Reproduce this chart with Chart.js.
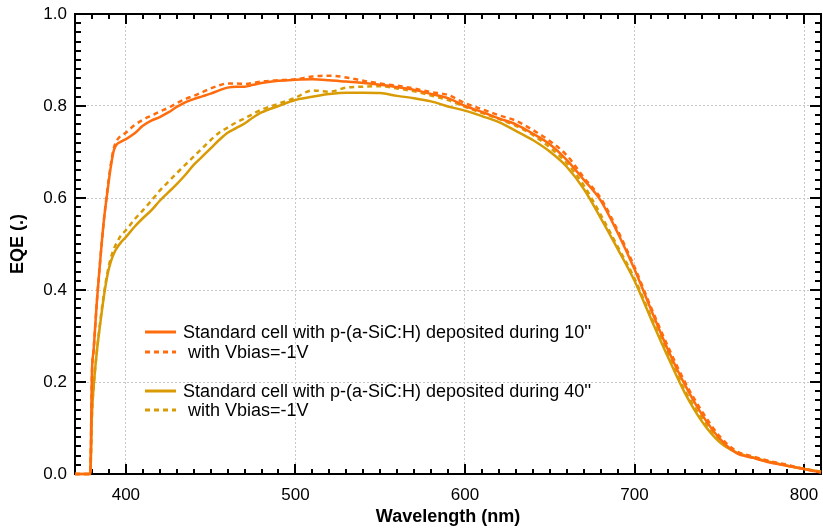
<!DOCTYPE html>
<html>
<head>
<meta charset="utf-8">
<script src="https://cdn.jsdelivr.net/npm/chart.js@4"></script>
<style>
  body { margin: 0; background: #fff; }
  #wrap { width: 823px; height: 529px; }
</style>
</head>
<body>
<div id="wrap"><canvas id="eqeChart" width="823" height="529"></canvas></div>
<script>
// wavelength grid (nm)
const wavelengths = [370, 379, 380, 381, 383, 385, 387, 389, 391, 393, 395, 397, 400, 405, 410, 415, 420, 425, 430, 435, 440, 445, 450, 455, 460, 465, 470, 475, 480, 490, 500, 510, 520, 530, 540, 550, 560, 570, 580, 590, 600, 610, 620, 630, 640, 650, 660, 670, 680, 690, 700, 710, 720, 730, 740, 750, 760, 770, 780, 790, 800, 810];

// EQE, p-layer deposited 10''
const eqe10 = [0, 0, 0.22, 0.27, 0.38, 0.47, 0.55, 0.61, 0.665, 0.705, 0.718, 0.722, 0.728, 0.74, 0.757, 0.768, 0.776, 0.786, 0.798, 0.808, 0.815, 0.821, 0.827, 0.834, 0.84, 0.842, 0.842, 0.846, 0.85, 0.855, 0.857, 0.858, 0.856, 0.853, 0.85, 0.846, 0.841, 0.835, 0.826, 0.817, 0.80, 0.787, 0.773, 0.76, 0.74, 0.717, 0.683, 0.64, 0.595, 0.525, 0.445, 0.355, 0.268, 0.192, 0.128, 0.078, 0.046, 0.035, 0.025, 0.018, 0.011, 0.003];
// same, Vbias = -1V
const eqe10bias = [0, 0, 0.22, 0.27, 0.38, 0.47, 0.55, 0.615, 0.67, 0.71, 0.727, 0.735, 0.742, 0.758, 0.77, 0.779, 0.788, 0.796, 0.806, 0.815, 0.822, 0.83, 0.838, 0.845, 0.849, 0.849, 0.848, 0.85, 0.853, 0.856, 0.858, 0.864, 0.866, 0.862, 0.855, 0.849, 0.844, 0.838, 0.83, 0.824, 0.806, 0.793, 0.78, 0.768, 0.748, 0.724, 0.693, 0.645, 0.6, 0.53, 0.45, 0.36, 0.275, 0.198, 0.135, 0.083, 0.05, 0.038, 0.028, 0.02, 0.011, 0.004];
// EQE, p-layer deposited 40''
const eqe40 = [0, 0, 0.13, 0.19, 0.27, 0.33, 0.385, 0.43, 0.46, 0.48, 0.493, 0.503, 0.515, 0.537, 0.556, 0.573, 0.594, 0.612, 0.63, 0.65, 0.672, 0.69, 0.708, 0.726, 0.742, 0.752, 0.762, 0.775, 0.786, 0.80, 0.813, 0.82, 0.826, 0.829, 0.829, 0.828, 0.822, 0.817, 0.81, 0.799, 0.79, 0.778, 0.765, 0.746, 0.726, 0.701, 0.668, 0.62, 0.557, 0.49, 0.42, 0.335, 0.252, 0.174, 0.113, 0.07, 0.047, 0.036, 0.026, 0.018, 0.011, 0.005];
// same, Vbias = -1V
const eqe40bias = [0, 0, 0.13, 0.19, 0.27, 0.335, 0.39, 0.435, 0.468, 0.49, 0.505, 0.518, 0.53, 0.553, 0.573, 0.594, 0.616, 0.635, 0.654, 0.672, 0.69, 0.708, 0.726, 0.742, 0.753, 0.764, 0.773, 0.783, 0.792, 0.805, 0.818, 0.834, 0.831, 0.84, 0.842, 0.843, 0.838, 0.832, 0.823, 0.813, 0.798, 0.785, 0.772, 0.757, 0.737, 0.71, 0.676, 0.628, 0.564, 0.495, 0.425, 0.34, 0.258, 0.18, 0.12, 0.074, 0.047, 0.036, 0.027, 0.019, 0.011, 0.005];

const xTicks = [400, 500, 600, 700, 800];
const legendLabels = ["Standard cell with p-(a-SiC:H) deposited during 10''", " with Vbias=-1V", "Standard cell with p-(a-SiC:H) deposited during 40''", " with Vbias=-1V"];

const ORANGE = '#ff6c0e';
const GOLD = '#d99b05';
const FONT = 'Arial, "Liberation Sans", sans-serif';

function toPoints(ys) {
    return wavelengths.map((x, i) => ({ x: x, y: ys[i] }));
}

function series(ys, color, dashed) {
    return {
        data: toPoints(ys),
        borderColor: color,
        borderWidth: 2.5,
        borderDash: dashed ? [5, 4] : [],
        pointRadius: 0,
        fill: false,
        clip: 4,
        cubicInterpolationMode: 'monotone'
    };
}

// frame + inward ticks (under the curves), legend box on top
const framePlugin = {
    id: 'frame',
    beforeDatasetsDraw(chart) {
        const ctx = chart.ctx;
        const a = chart.chartArea;
        const xs = chart.scales.x;
        const ys = chart.scales.y;
        ctx.save();
        ctx.strokeStyle = '#000';
        ctx.lineWidth = 2;
        ctx.strokeRect(a.left, a.top, a.right - a.left, a.bottom - a.top);

        ctx.beginPath();
        for (let w = 370; w <= 810; w += 10) {
            const px = Math.round(xs.getPixelForValue(w));
            const len = (w % 100 === 0) ? 10 : 5;
            ctx.moveTo(px, a.bottom); ctx.lineTo(px, a.bottom - len);
            ctx.moveTo(px, a.top); ctx.lineTo(px, a.top + len);
        }
        for (let k = 0; k <= 50; k++) {
            const py = Math.round(ys.getPixelForValue(k * 0.02));
            const len = (k % 10 === 0) ? 11 : 6;
            ctx.moveTo(a.left, py); ctx.lineTo(a.left + len, py);
            ctx.moveTo(a.right, py); ctx.lineTo(a.right - len, py);
        }
        ctx.stroke();
        ctx.restore();
    },
    afterDraw(chart) {
        const ctx = chart.ctx;
        const rows = [
            { y: 332, color: ORANGE, dash: [] },
            { y: 352, color: ORANGE, dash: [5, 4] },
            { y: 391, color: GOLD, dash: [] },
            { y: 410, color: GOLD, dash: [5, 4] }
        ];
        ctx.save();
        ctx.font = '18px ' + FONT;
        ctx.textBaseline = 'middle';
        ctx.fillStyle = '#000';
        rows.forEach((r, i) => {
            ctx.beginPath();
            ctx.setLineDash(r.dash);
            ctx.strokeStyle = r.color;
            ctx.lineWidth = 3;
            ctx.moveTo(145, r.y);
            ctx.lineTo(176, r.y);
            ctx.stroke();
            ctx.setLineDash([]);
            ctx.fillText(legendLabels[i], 183, r.y + 1);
        });
        ctx.restore();
    }
};

new Chart(document.getElementById('eqeChart'), {
    type: 'line',
    data: {
        datasets: [
            series(eqe10, ORANGE, false),
            series(eqe10bias, ORANGE, true),
            series(eqe40, GOLD, false),
            series(eqe40bias, GOLD, true)
        ]
    },
    options: {
        responsive: false,
        animation: false,
        layout: { padding: { top: 14, right: 2, left: 0, bottom: 0 } },
        plugins: {
            legend: { display: false },
            tooltip: { enabled: false }
        },
        scales: {
            x: {
                type: 'linear',
                min: 370,
                max: 810,
                afterBuildTicks: (scale) => { scale.ticks = xTicks.map(v => ({ value: v })); },
                afterFit: (scale) => {
                    scale.height = 55;
                    scale.paddingLeft = 0;
                    scale.paddingRight = 0;
                },
                grid: { color: '#c8c8c8', lineWidth: 1, drawTicks: false },
                border: { display: false, dash: [2, 2] },
                ticks: { color: '#000', padding: 11, font: { family: FONT, size: 17 } },
                title: {
                    display: true,
                    text: 'Wavelength (nm)',
                    color: '#000',
                    padding: { top: 0, bottom: 1 },
                    font: { family: FONT, size: 18, weight: 'bold' }
                }
            },
            y: {
                min: 0,
                max: 1,
                afterFit: (scale) => {
                    scale.width = 75;
                    scale.paddingTop = 0;
                    scale.paddingBottom = 0;
                },
                grid: { color: '#c8c8c8', lineWidth: 1, drawTicks: false },
                border: { display: false, dash: [2, 2] },
                ticks: {
                    stepSize: 0.2,
                    color: '#000',
                    padding: 8,
                    font: { family: FONT, size: 17 },
                    callback: (v) => v.toFixed(1)
                },
                title: {
                    display: true,
                    text: 'EQE (.)',
                    color: '#000',
                    padding: { top: 7, bottom: 0 },
                    font: { family: FONT, size: 18, weight: 'bold' }
                }
            }
        }
    },
    plugins: [framePlugin]
});
</script>
</body>
</html>
